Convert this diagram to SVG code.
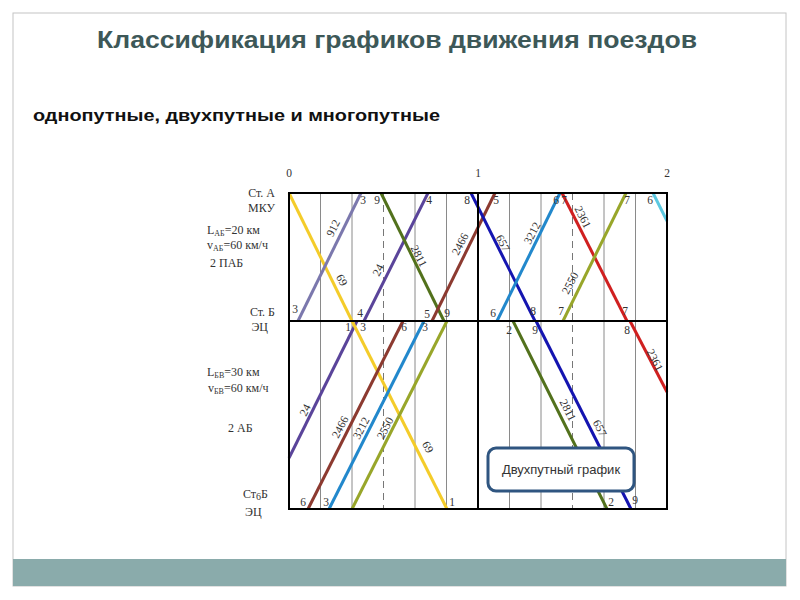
<svg xmlns="http://www.w3.org/2000/svg" width="800" height="600" viewBox="0 0 800 600">
<style>
.title{font-family:"Liberation Sans",Arial,sans-serif;font-weight:bold;font-size:23px;fill:#3d5858}
.sub{font-family:"Liberation Sans",Arial,sans-serif;font-weight:bold;font-size:16px;fill:#111}
.ser{font-family:"Liberation Serif","Times New Roman",serif;font-size:12px;fill:#333}
.lab{font-family:"Liberation Serif","Times New Roman",serif;font-size:11.5px;fill:#333;text-anchor:middle}
.grid{stroke:#8a8a8a;stroke-width:1}
.dash{stroke:#777;stroke-width:1;stroke-dasharray:7,5}
.thick{stroke:#000;stroke-width:2;fill:none}
.tr{stroke-width:3;fill:none;stroke-linecap:butt}
.boxt{font-family:"Liberation Sans",Arial,sans-serif;font-size:13px;fill:#333;text-anchor:middle}
</style>
<rect x="0" y="0" width="800" height="600" fill="#fff"/>
<rect x="13" y="13" width="773" height="573" fill="#fff" stroke="#c4c4c4" stroke-width="1"/>
<rect x="13" y="559" width="773" height="27" fill="#8aabab"/>
<text class="title" x="397" y="48" text-anchor="middle" textLength="600" lengthAdjust="spacingAndGlyphs">Классификация графиков движения поездов</text>
<text class="sub" x="33" y="121" textLength="407" lengthAdjust="spacingAndGlyphs">однопутные, двухпутные и многопутные</text>

<g id="grid">
<line class="grid" x1="320.5" y1="193" x2="320.5" y2="509"/>
<line class="grid" x1="352" y1="193" x2="352" y2="509"/>
<line class="dash" x1="383.5" y1="193" x2="383.5" y2="509"/>
<line class="grid" x1="415" y1="193" x2="415" y2="509"/>
<line class="grid" x1="446.5" y1="193" x2="446.5" y2="509"/>
<line class="grid" x1="509.5" y1="193" x2="509.5" y2="509"/>
<line class="grid" x1="541" y1="193" x2="541" y2="509"/>
<line class="dash" x1="572.5" y1="193" x2="572.5" y2="509"/>
<line class="grid" x1="604" y1="193" x2="604" y2="509"/>
<line class="grid" x1="635.5" y1="193" x2="635.5" y2="509"/>
</g>

<g id="trains">
<line class="tr" stroke="#f4cc2a" x1="289" y1="193" x2="352" y2="321"/>
<line class="tr" stroke="#7b78ad" x1="298" y1="321" x2="361" y2="193"/>
<line class="tr" stroke="#5a449a" x1="364" y1="321" x2="428" y2="193"/>
<line class="tr" stroke="#52711c" x1="381" y1="193" x2="444" y2="321"/>
<line class="tr" stroke="#8c3a30" x1="432" y1="321" x2="495" y2="193"/>
<line class="tr" stroke="#1414b0" x1="471" y1="193" x2="535" y2="321"/>
<line class="tr" stroke="#2288cc" x1="497" y1="321" x2="560" y2="193"/>
<line class="tr" stroke="#d02020" x1="562" y1="193" x2="627" y2="321"/>
<line class="tr" stroke="#98a62a" x1="563" y1="321" x2="626" y2="193"/>
<line class="tr" stroke="#5cc8e0" x1="653" y1="193" x2="667" y2="221"/>
<line class="tr" stroke="#5a449a" x1="289" y1="458" x2="357" y2="321"/>
<line class="tr" stroke="#f4cc2a" x1="352" y1="321" x2="447" y2="509"/>
<line class="tr" stroke="#8c3a30" x1="308" y1="509" x2="403" y2="321"/>
<line class="tr" stroke="#2288cc" x1="329" y1="509" x2="424" y2="321"/>
<line class="tr" stroke="#98a62a" x1="352" y1="509" x2="447" y2="321"/>
<line class="tr" stroke="#52711c" x1="513" y1="321" x2="607" y2="509"/>
<line class="tr" stroke="#1414b0" x1="536" y1="321" x2="631" y2="509"/>
<line class="tr" stroke="#d02020" x1="630" y1="321" x2="667" y2="392"/>
</g>

<g id="frame">
<rect class="thick" x="289" y="193" width="378" height="316"/>
<line class="thick" x1="289" y1="321" x2="667" y2="321"/>
<line class="thick" x1="478" y1="193" x2="478" y2="509"/>
</g>

<g id="hours">
<text class="lab" x="289" y="177">0</text>
<text class="lab" x="478" y="177">1</text>
<text class="lab" x="667" y="177">2</text>
</g>

<g id="stations">
<text class="ser" x="275" y="197" text-anchor="end">Ст. А</text>
<text class="ser" x="275" y="212" text-anchor="end">МКУ</text>
<text class="ser" x="207" y="234">L<tspan font-size="8" dy="2">АБ</tspan><tspan dy="-2">=20 км</tspan></text>
<text class="ser" x="207" y="249">v<tspan font-size="8" dy="2">АБ</tspan><tspan dy="-2">=60 км/ч</tspan></text>
<text class="ser" x="210" y="267">2 ПАБ</text>
<text class="ser" x="275" y="316" text-anchor="end">Ст. Б</text>
<text class="ser" x="268" y="331" text-anchor="end">ЭЦ</text>
<text class="ser" x="207" y="376">L<tspan font-size="8" dy="2">БВ</tspan><tspan dy="-2">=30 км</tspan></text>
<text class="ser" x="208" y="392">v<tspan font-size="8" dy="2">БВ</tspan><tspan dy="-2">=60 км/ч</tspan></text>
<text class="ser" x="228" y="432">2 АБ</text>
<text class="ser" x="243" y="498">Ст<tspan font-size="10" dy="2">6</tspan><tspan dy="-2">Б</tspan></text>
<text class="ser" x="245" y="516">ЭЦ</text>
</g>

<g id="train-numbers">
<text class="lab" transform="translate(342,280) rotate(63)" y="4">69</text>
<text class="lab" transform="translate(333,228) rotate(-63)" y="4">912</text>
<text class="lab" transform="translate(378,270) rotate(-63)" y="4">24</text>
<text class="lab" transform="translate(419,256) rotate(63)" y="4">2811</text>
<text class="lab" transform="translate(460,244) rotate(-63)" y="4">2466</text>
<text class="lab" transform="translate(503,243) rotate(63)" y="4">657</text>
<text class="lab" transform="translate(532,233) rotate(-63)" y="4">3212</text>
<text class="lab" transform="translate(583,217) rotate(63)" y="4">2361</text>
<text class="lab" transform="translate(570,283) rotate(-63)" y="4">2550</text>
<text class="lab" transform="translate(305,410) rotate(-63)" y="4">24</text>
<text class="lab" transform="translate(340,427) rotate(-63)" y="4">2466</text>
<text class="lab" transform="translate(361,428) rotate(-63)" y="4">3212</text>
<text class="lab" transform="translate(385,428) rotate(-63)" y="4">2550</text>
<text class="lab" transform="translate(428,447) rotate(63)" y="4">69</text>
<text class="lab" transform="translate(568,410) rotate(63)" y="4">2811</text>
<text class="lab" transform="translate(600,428) rotate(63)" y="4">657</text>
<text class="lab" transform="translate(655,360) rotate(63)" y="4">2361</text>
</g>

<g id="minutes">
<text class="lab" x="363" y="204">3</text>
<text class="lab" x="377" y="204">9</text>
<text class="lab" x="429" y="204">4</text>
<text class="lab" x="467" y="204">8</text>
<text class="lab" x="496" y="204">5</text>
<text class="lab" x="556" y="204">6</text>
<text class="lab" x="564" y="204">7</text>
<text class="lab" x="627" y="204">7</text>
<text class="lab" x="650" y="204">6</text>
<text class="lab" x="295" y="313">3</text>
<text class="lab" x="360" y="317">4</text>
<text class="lab" x="427" y="318">5</text>
<text class="lab" x="447" y="317">9</text>
<text class="lab" x="493" y="317">6</text>
<text class="lab" x="533" y="315">8</text>
<text class="lab" x="561" y="315">7</text>
<text class="lab" x="625" y="315">7</text>
<text class="lab" x="348" y="331">1</text>
<text class="lab" x="363" y="331">3</text>
<text class="lab" x="404" y="331">6</text>
<text class="lab" x="425" y="331">3</text>
<text class="lab" x="509" y="334">2</text>
<text class="lab" x="535" y="334">9</text>
<text class="lab" x="627" y="334">8</text>
<text class="lab" x="303" y="506">6</text>
<text class="lab" x="326" y="506">3</text>
<text class="lab" x="452" y="506">1</text>
<text class="lab" x="611" y="506">2</text>
<text class="lab" x="635" y="504">9</text>
</g>

<g id="box">
<rect x="488" y="448" width="146" height="43" rx="8" ry="8" fill="#fff" stroke="#2f5580" stroke-width="3"/>
<text class="boxt" x="561" y="474">Двухпутный график</text>
</g>
</svg>
